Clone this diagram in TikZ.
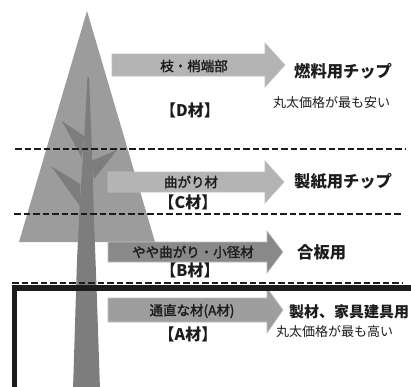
\documentclass[tikz,border=0pt]{standalone}
\usepackage{fontspec}
\newfontfamily\jp{Noto Sans CJK JP}
\newfontfamily\jpmedium[FakeBold=1.8]{Noto Sans CJK JP}
\definecolor{crown}{HTML}{9C9C9C}
\definecolor{wood}{HTML}{7D7D7D}
\definecolor{palegrey}{HTML}{B4B4B4}
\definecolor{darkgrey}{HTML}{898989}
\definecolor{midgrey}{HTML}{9E9E9E}
\definecolor{ink}{HTML}{1C1C1C}
\begin{document}
\begin{tikzpicture}[x=1pt,y=-1pt,
  cutline/.style={line width=2.8pt, dash pattern=on 6.5pt off 3pt, draw=ink},
  blockarrow/.style={draw=white!75!black, line width=0.6pt, line join=miter},
  partlabel/.style={font=\jpmedium\fontsize{13.5}{13.5}\selectfont, text=ink, inner sep=0pt},
  gradelabel/.style={font=\jp\bfseries\fontsize{16}{16}\selectfont, text=ink, inner sep=0pt},
  uselabel/.style={font=\jp\bfseries\fontsize{16.3}{16.3}\selectfont, text=ink, inner sep=0pt, anchor=west},
  pricenote/.style={font=\jp\fontsize{13}{13}\selectfont, text=ink, inner sep=0pt, anchor=west},
]
\useasboundingbox (0,0) rectangle (411,386);
\clip (0,0) rectangle (411,386);

% crown of the tree
\fill[crown] (87,11) -- (155,242) -- (19,242) -- cycle;
% trunk and branches
\fill[wood] (87.5,77) -- (84,140) -- (80,200) -- (77,260) -- (73,390)
  -- (100,390) -- (97,300) -- (94,220) -- (92,150) -- (89,77) -- cycle;
\fill[wood] (84,136) -- (62,121) -- (82,158) -- cycle;
\fill[wood] (91,161) -- (117,150) -- (94,179) -- cycle;
\fill[wood] (80,184) -- (51,166) -- (80,206) -- cycle;

% grade boundaries
\draw[cutline] (15,149) -- (405,149);
\draw[cutline] (14,214) -- (402,214);
\draw[cutline] (12,283) -- (402,283);

% block arrows
\filldraw[blockarrow, fill=palegrey] (112,54) -- (265,54) -- (265,43) -- (285,65)
  -- (265,87) -- (265,76) -- (112,76) -- cycle;
\filldraw[blockarrow, fill=palegrey] (108,172) -- (265,172) -- (265,161) -- (284,182)
  -- (265,203) -- (265,192) -- (108,192) -- cycle;
\filldraw[blockarrow, fill=darkgrey] (108,242) -- (267,242) -- (267,231) -- (283,252)
  -- (267,273) -- (267,262) -- (108,262) -- cycle;
\filldraw[blockarrow, fill=midgrey] (108,298) -- (267,298) -- (267,288) -- (283,310)
  -- (267,333) -- (267,322) -- (108,322) -- cycle;

% frame around the butt log
\draw[line width=5.5pt, line join=miter, draw=ink] (14.5,395) -- (14.5,288) -- (420,288);

% labels on the arrows
\node[partlabel] (partD) at (194,66) {枝・梢端部};
\node[partlabel] (partC) at (191,182) {曲がり材};
\node[partlabel] (partB) at (193,252) {やや曲がり・小径材};
\node[partlabel] (partA) at (192,311) {通直な材(A材)};

% grade names
\node[gradelabel] (gradeD) at (190,110) {【D材】};
\node[gradelabel] (gradeC) at (188,202) {【C材】};
\node[gradelabel] (gradeB) at (190,270) {【B材】};
\node[gradelabel] (gradeA) at (188,334) {【A材】};

% uses
\node[uselabel] (useD) at (294,71) {燃料用チップ};
\node[uselabel] (useC) at (294,181) {製紙用チップ};
\node[uselabel] (useB) at (297,252) {合板用};
\node[uselabel, font=\jp\bfseries\fontsize{15}{15}\selectfont] (useA) at (289,312) {製材、家具建具用};

% log prices
\node[pricenote] (priceLow) at (273,103) {丸太価格が最も安い};
\node[pricenote] (priceHigh) at (276,332) {丸太価格が最も高い};
\end{tikzpicture}
\end{document}
